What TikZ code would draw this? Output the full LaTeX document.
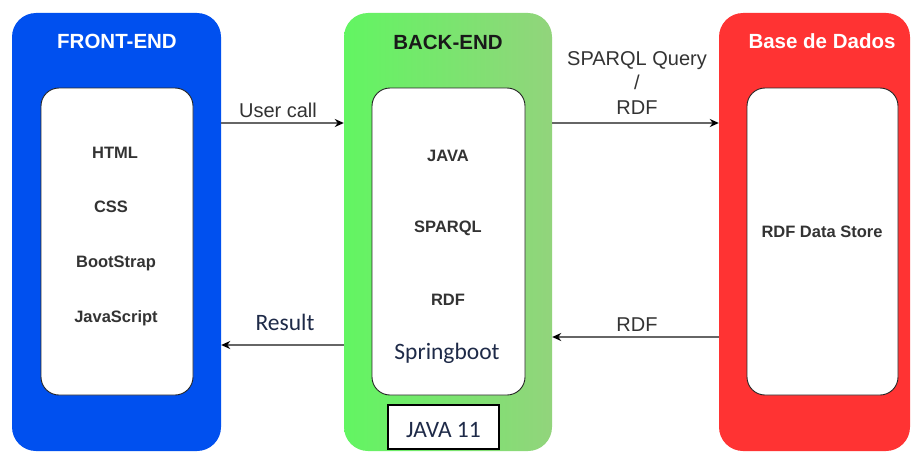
\documentclass[tikz,border=0pt]{standalone}
\usepackage{fontspec}
\setmainfont{Liberation Sans}
\newfontfamily\calibrilike{Carlito}
\usetikzlibrary{arrows.meta}

\definecolor{feblue}{HTML}{0050EF}
\definecolor{begreenL}{HTML}{62F562}
\definecolor{begreenR}{HTML}{92D47C}
\definecolor{dbred}{HTML}{FF3333}
\definecolor{linegray}{HTML}{666666}
\definecolor{labelgray}{HTML}{333333}
\definecolor{navytext}{HTML}{1E2A48}

\tikzset{
  tier/.style={rounded corners=24pt, minimum height=438pt, inner sep=0pt},
  panel/.style={draw=black!85, line width=0.9pt, fill=white, rounded corners=18pt,
    minimum height=307pt, inner sep=0pt},
  tiertitle/.style={font=\fontsize{20.5}{24}\selectfont\bfseries, inner sep=0pt},
  item/.style={font=\fontsize{16.5}{19}\selectfont\bfseries, text=black!80, inner sep=0pt},
  cal/.style={font=\calibrilike\fontsize{23.5}{27}\selectfont, text=navytext, inner sep=0pt},
  conn/.style={draw=linegray, line width=1.8pt,
    -{Stealth[length=9pt, width=8pt, color=black]}},
  flowlabel/.style={font=\fontsize{20}{24.5}\selectfont, text=labelgray, inner sep=0pt, align=center},
}

\begin{document}
\begin{tikzpicture}[x=1pt, y=-1pt]
  \useasboundingbox (0,0) rectangle (912,452);
  \fill[white] (0,0) rectangle (912,452);

  % three tiers
  \node[tier, fill=feblue, minimum width=209pt] (fe) at (116.5,232) {};
  \node[tier, left color=begreenL, right color=begreenR, minimum width=208pt] (be) at (448,232) {};
  \node[tier, fill=dbred, minimum width=191pt] (db) at (814.5,232) {};

  \node[tiertitle, text=white] (fetitle) at (117,41) {FRONT-END};
  \node[tiertitle, text=black!90] (betitle) at (448,42) {BACK-END};
  \node[tiertitle, text=white] (dbtitle) at (822,41) {Base de Dados};

  % inner panels
  \node[panel, minimum width=152pt] (fepanel) at (117,241.5) {};
  \node[panel, minimum width=153pt] (bepanel) at (448.5,241.5) {};
  \node[panel, minimum width=151pt] (dbpanel) at (822.5,241.5) {};

  % front-end stack
  \node[item] (html) at (115,153) {HTML};
  \node[item] (css) at (111,207) {CSS};
  \node[item] (bootstrap) at (116,263) {BootStrap};
  \node[item] (js) at (116,318) {JavaScript};

  % back-end stack
  \node[item] (java) at (448,156) {JAVA};
  \node[item] (sparql) at (448,228) {SPARQL};
  \node[item] (rdf) at (448,300) {RDF};
  \node[cal] (spring) at (447,353) {Springboot};

  \node[draw=black, line width=1.3pt, fill=white, minimum width=111pt, minimum height=44pt,
    inner sep=0pt] (java11) at (443.5,427) {};
  \node[cal] (java11txt) at (443.5,430) {JAVA 11};

  % data store
  \node[item] (store) at (822,232) {RDF Data Store};

  % connector heights
  \coordinate (ycall) at (0,123);
  \coordinate (yresult) at (0,345);
  \coordinate (yquery) at (0,123);
  \coordinate (yanswer) at (0,337);

  \draw[conn] (fe.east |- ycall) -- (be.west |- ycall);
  \draw[conn] (be.west |- yresult) -- (fe.east |- yresult);
  \draw[conn] (be.east |- yquery) -- (db.west |- yquery);
  \draw[conn] (db.west |- yanswer) -- (be.east |- yanswer);

  \node[flowlabel] (lcall) at (278,110) {User call};
  \node[cal] (lresult) at (285,322) {Result};
  \node[flowlabel] (lquery) at (637,83) {SPARQL Query\\/\\RDF};
  \node[flowlabel] (lanswer) at (637,325) {RDF};
\end{tikzpicture}
\end{document}
